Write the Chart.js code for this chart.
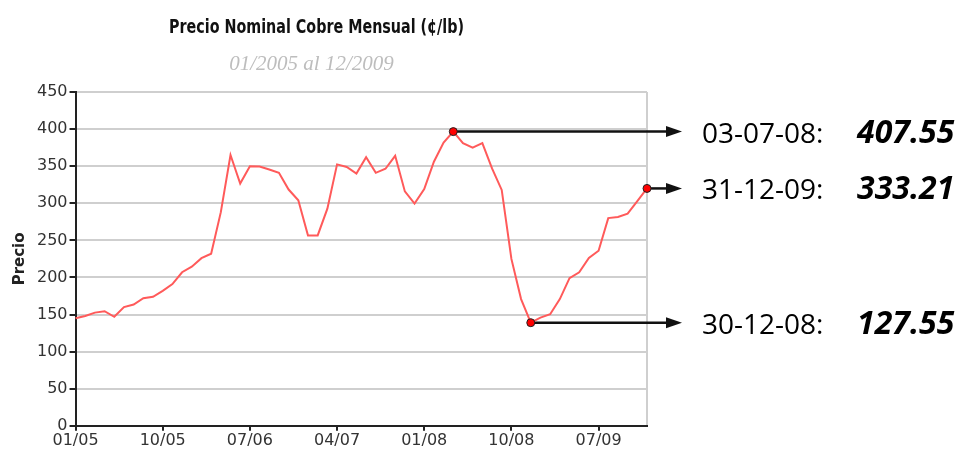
<!DOCTYPE html>
<html>
<head>
<meta charset="utf-8">
<script src="https://cdn.jsdelivr.net/npm/chart.js@4.4.1/dist/chart.umd.min.js"></script>
<style>
html, body { margin: 0; padding: 0; background: #fff; }
#wrap { position: relative; width: 964px; height: 450px; }
</style>
</head>
<body>
<div id="wrap"><canvas id="copperChart" width="964" height="450"></canvas></div>
<script>
const months = [
    "01/05", "02/05", "03/05", "04/05", "05/05", "06/05", "07/05", "08/05", "09/05", "10/05", "11/05", "12/05",
    "01/06", "02/06", "03/06", "04/06", "05/06", "06/06", "07/06", "08/06", "09/06", "10/06", "11/06", "12/06",
    "01/07", "02/07", "03/07", "04/07", "05/07", "06/07", "07/07", "08/07", "09/07", "10/07", "11/07", "12/07",
    "01/08", "02/08", "03/08", "04/08", "05/08", "06/08", "07/08", "08/08", "09/08", "10/08", "11/08", "12/08",
    "01/09", "02/09", "03/09", "04/09", "05/09", "06/09", "07/09", "08/09", "09/09", "10/09", "11/09", "12/09"
];
const tickLabels = ["01/05", "10/05", "07/06", "04/07", "01/08", "10/08", "07/09"];
const prices = [
    145, 148, 152.6, 154.5, 147, 160, 163.5, 172, 174, 182, 191, 207,
    214.5, 226, 232, 288, 365, 326.6, 350, 349.5, 345.6, 341, 318.5, 304,
    256.6, 256.6, 292.7, 352.4, 349, 340, 362, 341, 346.5, 364, 316, 299.5,
    319, 356, 381.7, 396.6, 381, 375, 381, 347, 318, 225, 170.8, 139,
    145.8, 150.4, 170.8, 199, 207, 226.3, 236, 280, 281.4, 286, 303, 320
];
const markIndex = [39, 59, 47];
const markDates = ["03-07-08:", "31-12-09:", "30-12-08:"];
const markValues = ["407.55", "333.21", "127.55"];
const chartTitle = "Precio Nominal Cobre Mensual (¢/lb)";
const chartSubtitle = "01/2005 al 12/2009";
const axisTitle = "Precio";

// arrows from the marked points out to the right-hand notes
const arrowPlugin = {
    id: "arrows",
    beforeDatasetsDraw(chart) {
        const ctx = chart.ctx;
        const meta = chart.getDatasetMeta(0);
        const tipX = chart.chartArea.right + 35;
        ctx.save();
        ctx.strokeStyle = "#111";
        ctx.fillStyle = "#111";
        ctx.lineWidth = 2.5;
        markIndex.forEach(idx => {
            const pt = meta.data[idx];
            ctx.beginPath();
            ctx.moveTo(pt.x, pt.y);
            ctx.lineTo(tipX - 12, pt.y);
            ctx.stroke();
            ctx.beginPath();
            ctx.moveTo(tipX, pt.y);
            ctx.lineTo(tipX - 16, pt.y - 5.5);
            ctx.lineTo(tipX - 16, pt.y + 5.5);
            ctx.closePath();
            ctx.fill();
        });
        ctx.restore();
    },
    afterDraw(chart) {
        const ctx = chart.ctx;
        const meta = chart.getDatasetMeta(0);
        const right = chart.chartArea.right;
        ctx.save();
        ctx.textAlign = "left";
        ctx.textBaseline = "alphabetic";
        // title is a condensed bold face; squeeze it to the original width
        ctx.fillStyle = "#111";
        ctx.font = "bold 20px 'DejaVu Sans', sans-serif";
        const w = ctx.measureText(chartTitle).width;
        ctx.save();
        ctx.translate(169, 33);
        ctx.scale(295 / w, 1);
        ctx.fillText(chartTitle, 0, 0);
        ctx.restore();

        ctx.textAlign = "center";
        ctx.fillStyle = "#bdbdbd";
        ctx.font = "italic 21px 'Liberation Serif', serif";
        ctx.fillText(chartSubtitle, 311.5, 70);

        ctx.textAlign = "left";
        ctx.fillStyle = "#000";
        markIndex.forEach((idx, i) => {
            const y = meta.data[idx].y + 11;
            ctx.font = "28px 'Open Sans', sans-serif";
            ctx.fillText(markDates[i], right + 55, y);
            ctx.font = "italic bold 32px 'Open Sans', sans-serif";
            ctx.fillText(markValues[i], right + 210, y);
        });
        ctx.restore();
    }
};

new Chart(document.getElementById("copperChart"), {
    type: "line",
    data: {
        labels: months,
        datasets: [{
            data: prices,
            borderColor: "#ff5a5a",
            borderWidth: 2,
            tension: 0,
            clip: false,
            pointRadius: ctx => markIndex.includes(ctx.dataIndex) ? 4 : 0,
            pointHoverRadius: 0,
            pointBackgroundColor: "#ff0000",
            pointBorderColor: "#222",
            pointBorderWidth: 1,
        }],
    },
    plugins: [arrowPlugin],
    options: {
        responsive: false,
        animation: false,
        devicePixelRatio: 1,
        layout: {
            padding: { left: 5, right: 317, top: 92, bottom: 0 },
        },
        plugins: {
            legend: { display: false },
            tooltip: { enabled: false },
        },
        scales: {
            x: {
                type: "category",
                offset: false,
                grid: {
                    color: ctx => ctx.index === months.length - 1 ? "#cfcfcf" : "transparent",
                    lineWidth: 2,
                    tickColor: ctx => tickLabels.includes(months[ctx.index]) ? "#222" : "transparent",
                    tickLength: 5,
                },
                border: { color: "#222", width: 2 },
                ticks: {
                    autoSkip: false,
                    maxRotation: 0,
                    padding: 0,
                    color: "#333",
                    font: { family: "'DejaVu Sans'", size: 16 },
                    callback: (v, i) => tickLabels.includes(months[i]) ? months[i] : "",
                },
            },
            y: {
                min: 0,
                max: 450,
                grid: {
                    color: "#cfcfcf",
                    lineWidth: 2,
                    tickColor: "#222",
                    tickLength: 6,
                },
                border: { color: "#222", width: 2 },
                ticks: {
                    stepSize: 50,
                    padding: 2,
                    color: "#333",
                    font: { family: "'DejaVu Sans'", size: 16 },
                },
                title: {
                    display: true,
                    text: axisTitle,
                    color: "#222",
                    padding: 6,
                    font: { family: "'DejaVu Sans'", size: 15, weight: "bold" },
                },
            },
        },
    },
});
</script>
</body>
</html>
